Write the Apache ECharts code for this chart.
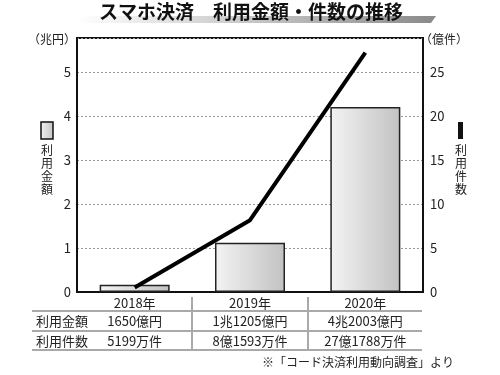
<!DOCTYPE html>
<html><head><meta charset="utf-8">
<script src="https://cdn.jsdelivr.net/npm/echarts@6/dist/echarts.min.js"></script>
<style>html,body{margin:0;padding:0;background:#fff}#c{width:500px;height:375px}</style>
</head><body><div id="c"></div>
<script>
var years = ['2018年', '2019年', '2020年'];
var amountTrillionYen = [0.165, 1.1205, 4.2003];
var countHundredMillion = [0.5199, 8.1593, 27.1788];
var amountLabels = ['1650億円', '1兆1205億円', '4兆2003億円'];
var countLabels = ['5199万件', '8億1593万件', '27億1788万件'];
var rowNames = ['利用金額', '利用件数'];

var FONT = '"Noto Sans CJK JP", "Noto Sans", sans-serif';
var chart = echarts.init(document.getElementById('c'), null, {renderer: 'canvas'});
var barGrad = new echarts.graphic.LinearGradient(0, 0, 1, 0, [
  {offset: 0, color: '#f3f3f3'}, {offset: 1, color: '#c2c2c2'}]);

chart.setOption({
  animation: false,
  textStyle: {fontFamily: FONT},
  grid: {left: 77, right: 77, top: 38, bottom: 83, show: true, borderColor: '#111', borderWidth: 2, backgroundColor: 'transparent'},
  xAxis: {
    type: 'category', data: years,
    axisLine: {lineStyle: {color: '#111', width: 2}},
    axisTick: {inside: true, length: 4, lineStyle: {color: '#111', width: 2}},
    axisLabel: {color: '#222', fontSize: 13, margin: 5, fontFamily: FONT}
  },
  yAxis: [{
    type: 'value', min: 0, max: 5.77, interval: 1,
    axisLine: {show: true, lineStyle: {color: '#111', width: 2}},
    axisTick: {show: false},
    axisLabel: {color: '#222', fontSize: 13, margin: 6, showMaxLabel: false, fontFamily: FONT},
    splitLine: {show: true, lineStyle: {color: '#999', type: [2, 2], width: 1}}
  }, {
    type: 'value', min: 0, max: 28.85, interval: 5,
    axisLine: {show: true, lineStyle: {color: '#111', width: 2}},
    axisTick: {show: false},
    axisLabel: {color: '#222', fontSize: 13, margin: 7, showMaxLabel: false, fontFamily: FONT},
    splitLine: {show: false}
  }],
  series: [{
    type: 'bar', data: amountTrillionYen, yAxisIndex: 0, barWidth: 70, z: 2,
    itemStyle: {color: barGrad, borderColor: '#222', borderWidth: 1.5}
  }, {
    type: 'line', data: countHundredMillion, yAxisIndex: 1, z: 5,
    symbol: 'none', lineStyle: {color: '#000', width: 4}
  }]
});

// Build table & decorations from the axis scale
var centers = years.map(function (y) { return chart.convertToPixel({xAxisIndex: 0}, y); });
var step = centers[1] - centers[0];
var g = [];
// title band
g.push({type: 'polygon', shape: {points: [[77, 23], [82, 16], [436, 16], [431, 23]]}, z: 1,
  style: {fill: new echarts.graphic.LinearGradient(0, 0, 1, 0, [{offset: 0, color: '#ffffff'}, {offset: 1, color: '#8a8a8a'}])}});
g.push({type: 'text', x: 251, y: 12, z: 2, style: {text: 'スマホ決済　利用金額・件数の推移', fill: '#111', font: 'bold 19px ' + FONT, align: 'center', verticalAlign: 'middle'}});
// unit labels
g.push({type: 'text', x: 52, y: 39, style: {text: '（兆円）', fill: '#222', font: '12px ' + FONT, align: 'center', verticalAlign: 'middle'}});
g.push({type: 'text', x: 444, y: 39, style: {text: '（億件）', fill: '#222', font: '12px ' + FONT, align: 'center', verticalAlign: 'middle'}});
// legends
g.push({type: 'rect', shape: {x: 41, y: 122, width: 12, height: 17}, style: {fill: barGrad, stroke: '#111', lineWidth: 1.5}});
g.push({type: 'text', x: 47, y: 144, style: {text: '利\n用\n金\n額', fill: '#222', font: '12px ' + FONT, align: 'center', lineHeight: 13}});
g.push({type: 'rect', shape: {x: 458, y: 122, width: 5, height: 17}, style: {fill: '#111'}});
g.push({type: 'text', x: 461, y: 144, style: {text: '利\n用\n件\n数', fill: '#222', font: '12px ' + FONT, align: 'center', lineHeight: 13}});
// table lines
[311, 331, 350].forEach(function (yy) {
  g.push({type: 'line', shape: {x1: 32, y1: yy, x2: 422, y2: yy}, style: {stroke: '#555', lineWidth: 1.2}});
});
for (var i = 1; i < centers.length; i++) {
  var bx = Math.round(centers[i] - step / 2);
  g.push({type: 'line', shape: {x1: bx, y1: 297, x2: bx, y2: 350}, style: {stroke: '#aaa', lineWidth: 2}});
}
var rows = [amountLabels, countLabels];
var rowY = [321, 341];
rows.forEach(function (vals, r) {
  g.push({type: 'text', x: 36, y: rowY[r], style: {text: rowNames[r], fill: '#222', font: '13px ' + FONT, align: 'left', verticalAlign: 'middle'}});
  vals.forEach(function (v, i) {
    g.push({type: 'text', x: centers[i], y: rowY[r], style: {text: v, fill: '#222', font: '13px ' + FONT, align: 'center', verticalAlign: 'middle'}});
  });
});
g.push({type: 'text', x: 454, y: 362, style: {text: '※「コード決済利用動向調査」より', fill: '#222', font: '12px ' + FONT, align: 'right', verticalAlign: 'middle'}});
chart.setOption({graphic: g});
</script>
</body></html>
